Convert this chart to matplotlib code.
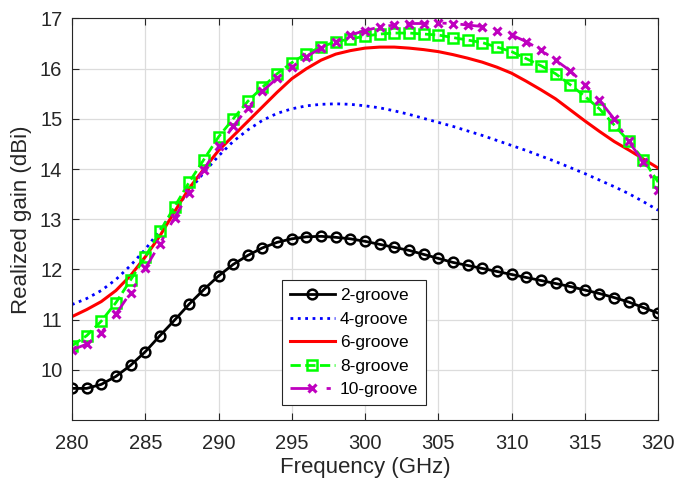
import numpy as np
import matplotlib
matplotlib.use("Agg")
import matplotlib.pyplot as plt

plt.rcParams['font.family'] = ['Liberation Sans', 'DejaVu Sans']

freq = np.arange(280, 321)

g2 = [9.63, 9.63, 9.71, 9.87, 10.09, 10.36, 10.68, 10.99, 11.31, 11.60,
      11.87, 12.10, 12.28, 12.43, 12.54, 12.61, 12.65, 12.66, 12.64, 12.61,
      12.56, 12.50, 12.44, 12.38, 12.30, 12.22, 12.14, 12.08, 12.02, 11.96,
      11.90, 11.84, 11.78, 11.72, 11.66, 11.59, 11.52, 11.44, 11.35, 11.24,
      11.13]
g4 = [11.30, 11.42, 11.58, 11.80, 12.08, 12.40, 12.78, 13.18, 13.57, 13.93,
      14.26, 14.55, 14.78, 14.97, 15.11, 15.20, 15.26, 15.29, 15.30, 15.29,
      15.26, 15.22, 15.16, 15.09, 15.01, 14.93, 14.85, 14.76, 14.67, 14.57,
      14.47, 14.37, 14.26, 14.15, 14.03, 13.91, 13.78, 13.65, 13.51, 13.35,
      13.18]
g6 = [11.06, 11.20, 11.36, 11.58, 11.88, 12.25, 12.67, 13.15, 13.62, 14.00,
      14.37, 14.66, 14.95, 15.24, 15.53, 15.80, 16.00, 16.17, 16.29, 16.36,
      16.41, 16.43, 16.43, 16.41, 16.38, 16.34, 16.28, 16.21, 16.13, 16.03,
      15.91, 15.75, 15.58, 15.40, 15.18, 14.96, 14.75, 14.55, 14.38, 14.20,
      14.02]
g8 = [10.48, 10.68, 10.97, 11.34, 11.79, 12.25, 12.76, 13.25, 13.74, 14.19,
      14.64, 15.00, 15.35, 15.63, 15.90, 16.12, 16.30, 16.43, 16.54, 16.59,
      16.65, 16.69, 16.71, 16.71, 16.69, 16.67, 16.62, 16.57, 16.52, 16.43,
      16.34, 16.20, 16.06, 15.90, 15.68, 15.45, 15.20, 14.88, 14.55, 14.19,
      13.74]
g10 = [10.40, 10.51, 10.74, 11.11, 11.54, 12.02, 12.51, 13.03, 13.53, 13.99,
       14.45, 14.85, 15.22, 15.55, 15.81, 16.04, 16.24, 16.41, 16.54, 16.67,
       16.76, 16.83, 16.87, 16.90, 16.90, 16.91, 16.90, 16.87, 16.84, 16.76,
       16.67, 16.54, 16.37, 16.17, 15.96, 15.68, 15.37, 15.00, 14.55, 14.14,
       13.58]

fig = plt.figure(figsize=(6.76, 4.84), dpi=100)
ax = fig.add_axes([0.1065, 0.1322, 0.867, 0.8296])

ax.plot(freq, g2, color='black', lw=2, marker='o', ms=7, mfc='none', mew=1.8,
        label='2-groove')
ax.plot(freq, g4, color='blue', lw=2, ls=':', label='4-groove')
ax.plot(freq, g6, color='red', lw=2.2, label='6-groove')
ax.plot(freq, g8, color='#00ff00', lw=2, ls='--', marker='s', ms=7, mfc='none',
        mew=1.8, label='8-groove')
ax.plot(freq, g10, color='#bf00bf', lw=2, ls=(0, (8, 5, 1.5, 5)), marker='x',
        ms=6, mew=2.2, label='10-groove')

ax.set_xlim(280, 320)
ax.set_ylim(9, 17)
ax.set_xticks(np.arange(280, 321, 5))
ax.set_yticks(np.arange(10, 18, 1))
ax.grid(True, color='#dcdcdc', lw=0.9)
ax.set_axisbelow(True)
ax.tick_params(direction='in', top=True, right=True, labelsize=14.5,
               colors='#262626', length=5)
ax.tick_params(axis='x', pad=10)
ax.tick_params(axis='y', pad=7)
for s in ax.spines.values():
    s.set_color('#262626')
ax.set_xlabel('Frequency (GHz)', fontsize=16, color='#262626', labelpad=3)
ax.set_ylabel('Realized gain (dBi)', fontsize=16, color='#262626', labelpad=6)

leg = ax.legend(loc='lower left', bbox_to_anchor=(0.358, 0.037), fontsize=12.5,
                fancybox=False, framealpha=1, edgecolor='#262626',
                handlelength=2.6, borderpad=0.45, labelspacing=0.48,
                handletextpad=0.3, borderaxespad=0)
leg.get_frame().set_linewidth(0.8)

fig.savefig('out.png', dpi=100)
